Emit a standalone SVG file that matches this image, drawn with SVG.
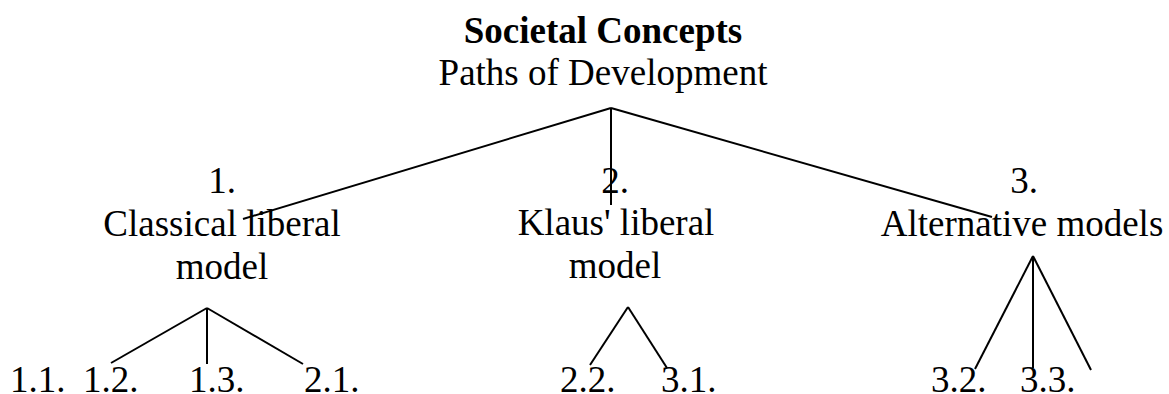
<svg xmlns="http://www.w3.org/2000/svg" width="1169" height="394" viewBox="0 0 1169 394">
<style>
text{font-family:"Liberation Serif","Times New Roman",serif;font-size:37px;fill:#000}
.c{text-anchor:middle}
.b{font-weight:bold}
.ln line{stroke:#000;stroke-width:2;stroke-linecap:butt}
</style>
<rect width="1169" height="394" fill="#fff"/>
<g id="root">
<text class="c b" x="603" y="43">Societal Concepts</text>
<text class="c" x="603" y="85">Paths of Development</text>
</g>
<g id="n1">
<text class="c" x="222" y="193">1.</text>
<text class="c" x="222" y="236">Classical liberal</text>
<text class="c" x="222" y="279">model</text>
</g>
<g id="n2">
<text class="c" x="615" y="193">2.</text>
<text class="c" x="616" y="235">Klaus' liberal</text>
<text class="c" x="615" y="278">model</text>
</g>
<g id="n3">
<text class="c" x="1024" y="193">3.</text>
<text class="c" x="1022" y="236">Alternative models</text>
</g>
<g id="leaves">
<text x="10" y="392">1.1.</text>
<text x="83" y="392">1.2.</text>
<text x="189" y="392">1.3.</text>
<text x="304" y="392">2.1.</text>
<text x="560" y="392">2.2.</text>
<text x="661" y="392">3.1.</text>
<text x="931" y="392">3.2.</text>
<text x="1020" y="392">3.3.</text>
</g>
<g id="connectors" class="ln">
<line x1="611" y1="108" x2="243" y2="219"/>
<line x1="611" y1="108" x2="611" y2="205"/>
<line x1="611" y1="108" x2="992" y2="217"/>
<line x1="207" y1="308" x2="111" y2="363"/>
<line x1="207" y1="308" x2="207" y2="364"/>
<line x1="207" y1="308" x2="303" y2="364"/>
<line x1="628" y1="307" x2="590" y2="365"/>
<line x1="628" y1="307" x2="667" y2="368"/>
<line x1="1033" y1="256" x2="975" y2="369"/>
<line x1="1033" y1="256" x2="1033" y2="368"/>
<line x1="1033" y1="256" x2="1091" y2="370"/>
</g>
</svg>
